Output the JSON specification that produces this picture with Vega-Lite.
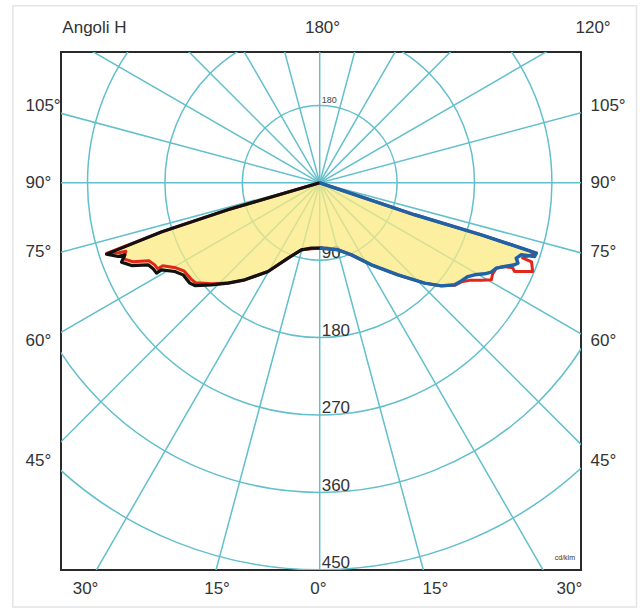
{
  "$schema": "https://vega.github.io/schema/vega-lite/v6.json",
  "width": 520,
  "height": 518,
  "autosize": {"type": "none"},
  "padding": {"left": 61, "top": 52, "right": 59, "bottom": 39},
  "background": "white",
  "config": {
    "view": {"stroke": "#2a2a2a", "strokeWidth": 2},
    "axis": {"labelFont": "Liberation Sans", "labelFontSize": 17, "labelColor": "#333333", "ticks": false, "domain": false, "grid": false, "title": null, "labelOverlap": false, "labelBound": false, "labelFlush": false}
  },
  "datasets": {
    "rings": [
      {"ring": 90, "bottom": -90, "label": "90"},
      {"ring": 180, "bottom": -180, "label": "180"},
      {"ring": 270, "bottom": -270, "label": "270"},
      {"ring": 360, "bottom": -360, "label": "360"},
      {"ring": 450, "bottom": -450, "label": "450"}
    ],
    "spokes": [
      {"x1": 0, "y1": -800, "x2": 0, "y2": 800},
      {"x1": 207.1, "y1": -772.7, "x2": -207.1, "y2": 772.7},
      {"x1": 400, "y1": -692.8, "x2": -400, "y2": 692.8},
      {"x1": 565.7, "y1": -565.7, "x2": -565.7, "y2": 565.7},
      {"x1": 692.8, "y1": -400, "x2": -692.8, "y2": 400},
      {"x1": 772.7, "y1": -207.1, "x2": -772.7, "y2": 207.1},
      {"x1": 800, "y1": 0, "x2": -800, "y2": 0},
      {"x1": 772.7, "y1": 207.1, "x2": -772.7, "y2": -207.1},
      {"x1": 692.8, "y1": 400, "x2": -692.8, "y2": -400},
      {"x1": 565.7, "y1": 565.7, "x2": -565.7, "y2": -565.7},
      {"x1": 400, "y1": 692.8, "x2": -400, "y2": -692.8},
      {"x1": 207.1, "y1": 772.7, "x2": -207.1, "y2": -772.7}
    ],
    "black": [
      {"i": 0, "x": 0, "y": 0}, {"i": 1, "x": -107.0, "y": -31.4}, {"i": 2, "x": -183.7, "y": -57.0},
      {"i": 3, "x": -248.0, "y": -82.9}, {"i": 4, "x": -234.5, "y": -85.7}, {"i": 5, "x": -226.7, "y": -83.7},
      {"i": 6, "x": -230.6, "y": -92.2}, {"i": 7, "x": -219.0, "y": -96.2}, {"i": 8, "x": -199.7, "y": -95.3},
      {"i": 9, "x": -193.8, "y": -100.0}, {"i": 10, "x": -189.9, "y": -105.0}, {"i": 11, "x": -184.1, "y": -101.2},
      {"i": 12, "x": -168.6, "y": -103.1}, {"i": 13, "x": -159.0, "y": -107.0}, {"i": 14, "x": -151.2, "y": -116.6},
      {"i": 15, "x": -145.3, "y": -119.4}, {"i": 16, "x": -125.9, "y": -118.6}, {"i": 17, "x": -106.7, "y": -116.6},
      {"i": 18, "x": -87.2, "y": -112.8}, {"i": 19, "x": -60.1, "y": -103.1}, {"i": 20, "x": -36.9, "y": -87.6},
      {"i": 21, "x": -21.3, "y": -77.9}, {"i": 22, "x": -9.7, "y": -75.9}, {"i": 23, "x": 4, "y": -75.9}
    ],
    "blue": [
      {"i": 0, "x": 0, "y": -75.9}, {"i": 1, "x": 21.3, "y": -77.9}, {"i": 2, "x": 36.9, "y": -83.7},
      {"i": 3, "x": 60.1, "y": -95.3}, {"i": 4, "x": 91.0, "y": -107.0}, {"i": 5, "x": 122.1, "y": -116.6},
      {"i": 6, "x": 141.5, "y": -119.8}, {"i": 7, "x": 157.0, "y": -118.6}, {"i": 8, "x": 164.8, "y": -114.0},
      {"i": 9, "x": 172.4, "y": -109.0}, {"i": 10, "x": 180.2, "y": -107.0}, {"i": 11, "x": 191.9, "y": -105.8},
      {"i": 12, "x": 199.7, "y": -103.8}, {"i": 13, "x": 205.5, "y": -99.2}, {"i": 14, "x": 215.1, "y": -97.3},
      {"i": 15, "x": 226.7, "y": -95.3}, {"i": 16, "x": 230.6, "y": -93.4}, {"i": 17, "x": 228.7, "y": -87.6},
      {"i": 18, "x": 234.5, "y": -83.7}, {"i": 19, "x": 250.0, "y": -85.7}, {"i": 20, "x": 252.0, "y": -81.7},
      {"i": 21, "x": 188.0, "y": -60.5}, {"i": 22, "x": 110.5, "y": -37.2}, {"i": 23, "x": 0, "y": 0}
    ],
    "red": [
      {"i": 0, "x": 0, "y": 0}, {"i": 1, "x": -107.0, "y": -31.4}, {"i": 2, "x": -183.7, "y": -57.0},
      {"i": 3, "x": -248.0, "y": -82.0}, {"i": 4, "x": -233.7, "y": -81.4},
      {"i": 5, "x": -225.6, "y": -79.6}, {"i": 6, "x": -227.9, "y": -88.4}, {"i": 7, "x": -217.4, "y": -91.7},
      {"i": 8, "x": -198.8, "y": -90.7}, {"i": 9, "x": -191.9, "y": -95.4}, {"i": 10, "x": -188.4, "y": -100.0},
      {"i": 11, "x": -182.6, "y": -96.5}, {"i": 12, "x": -167.4, "y": -98.8}, {"i": 13, "x": -158.1, "y": -102.3},
      {"i": 14, "x": -150.0, "y": -111.6}, {"i": 15, "x": -144.2, "y": -116.3}, {"i": 16, "x": -125.6, "y": -117.4},
      {"i": 17, "x": -106.7, "y": -116.6}, {"i": 18, "x": -87.2, "y": -112.8}, {"i": 19, "x": -60.1, "y": -103.1},
      {"i": 20, "x": -36.9, "y": -87.6}, {"i": 21, "x": -21.3, "y": -77.9}, {"i": 22, "x": 0, "y": -75.9},
      {"i": 23, "x": 21.3, "y": -77.9}, {"i": 24, "x": 36.9, "y": -83.7}, {"i": 25, "x": 60.1, "y": -95.3},
      {"i": 26, "x": 91.0, "y": -107.0}, {"i": 27, "x": 122.1, "y": -116.6}, {"i": 28, "x": 141.5, "y": -119.8},
      {"i": 29, "x": 157.0, "y": -119.2}, {"i": 30, "x": 164.8, "y": -115.1}, {"i": 31, "x": 174.4, "y": -113.4},
      {"i": 32, "x": 188.4, "y": -113.4}, {"i": 33, "x": 199.7, "y": -112.8}, {"i": 34, "x": 201.2, "y": -105.8},
      {"i": 35, "x": 205.5, "y": -99.2}, {"i": 36, "x": 215.1, "y": -97.3}, {"i": 37, "x": 224.4, "y": -98.8},
      {"i": 38, "x": 226.7, "y": -103.1}, {"i": 39, "x": 247.7, "y": -103.1}, {"i": 40, "x": 246.5, "y": -91.9},
      {"i": 41, "x": 236.0, "y": -87.2}, {"i": 42, "x": 252.0, "y": -81.7}, {"i": 43, "x": 188.0, "y": -60.5},
      {"i": 44, "x": 110.5, "y": -37.2}, {"i": 45, "x": 0, "y": 0}
    ],
    "fill": [
      {"i": 0, "x": 0, "y": 0}, {"i": 1, "x": -107.0, "y": -31.4}, {"i": 2, "x": -183.7, "y": -57.0},
      {"i": 3, "x": -248.0, "y": -82.9}, {"i": 4, "x": -234.5, "y": -85.7}, {"i": 5, "x": -226.7, "y": -83.7},
      {"i": 6, "x": -230.6, "y": -92.2}, {"i": 7, "x": -219.0, "y": -96.2}, {"i": 8, "x": -199.7, "y": -95.3},
      {"i": 9, "x": -193.8, "y": -100.0}, {"i": 10, "x": -189.9, "y": -105.0}, {"i": 11, "x": -184.1, "y": -101.2},
      {"i": 12, "x": -168.6, "y": -103.1}, {"i": 13, "x": -159.0, "y": -107.0}, {"i": 14, "x": -151.2, "y": -116.6},
      {"i": 15, "x": -145.3, "y": -119.4}, {"i": 16, "x": -125.9, "y": -118.6}, {"i": 17, "x": -106.7, "y": -116.6},
      {"i": 18, "x": -87.2, "y": -112.8}, {"i": 19, "x": -60.1, "y": -103.1}, {"i": 20, "x": -36.9, "y": -87.6},
      {"i": 21, "x": -21.3, "y": -77.9}, {"i": 22, "x": -9.7, "y": -75.9}, {"i": 23, "x": 0, "y": -75.9},
      {"i": 24, "x": 21.3, "y": -77.9}, {"i": 25, "x": 36.9, "y": -83.7}, {"i": 26, "x": 60.1, "y": -95.3},
      {"i": 27, "x": 91.0, "y": -107.0}, {"i": 28, "x": 122.1, "y": -116.6}, {"i": 29, "x": 141.5, "y": -119.8},
      {"i": 30, "x": 157.0, "y": -118.6}, {"i": 31, "x": 164.8, "y": -114.0}, {"i": 32, "x": 172.4, "y": -109.0},
      {"i": 33, "x": 180.2, "y": -107.0}, {"i": 34, "x": 191.9, "y": -105.8}, {"i": 35, "x": 199.7, "y": -103.8},
      {"i": 36, "x": 205.5, "y": -99.2}, {"i": 37, "x": 215.1, "y": -97.3}, {"i": 38, "x": 226.7, "y": -95.3},
      {"i": 39, "x": 230.6, "y": -93.4}, {"i": 40, "x": 228.7, "y": -87.6}, {"i": 41, "x": 234.5, "y": -83.7},
      {"i": 42, "x": 250.0, "y": -85.7}, {"i": 43, "x": 252.0, "y": -81.7}, {"i": 44, "x": 188.0, "y": -60.5},
      {"i": 45, "x": 110.5, "y": -37.2}, {"i": 46, "x": 0, "y": 0}
    ]
  },
  "layer": [
    {
      "data": {"values": [{}]},
      "mark": {"type": "rect", "filled": false, "color": "#e4e4e4", "strokeWidth": 1.5},
      "encoding": {
        "x": {"datum": -357, "type": "quantitative", "scale": {"domain": [-301, 304], "nice": false, "zero": false},
          "axis": {"orient": "bottom", "values": [-273, -120, -2, 134, 290], "labelPadding": 10,
            "labelExpr": "datum.value < -200 ? '30°' : datum.value < -50 ? '15°' : datum.value < 50 ? '0°' : datum.value < 200 ? '15°' : '30°'"}},
        "x2": {"datum": 368.6},
        "y": {"datum": 205.8, "type": "quantitative", "scale": {"domain": [-450, 152], "nice": false, "zero": false},
          "axis": {"orient": "left", "values": [89.5, 0, -80.2, -183.7, -323.3], "labelAlign": "left", "labelBaseline": "middle", "labelPadding": 36,
            "labelExpr": "datum.value > 50 ? '105°' : datum.value > -40 ? '90°' : datum.value > -130 ? '75°' : datum.value > -250 ? '60°' : '45°'"}},
        "y2": {"datum": -493}
      }
    },
    {
      "data": {"name": "rings"},
      "mark": {"type": "point", "shape": "circle", "filled": false, "color": "#62bfcc", "strokeWidth": 1.5, "opacity": 1, "clip": true},
      "encoding": {
        "x": {"datum": 0, "type": "quantitative", "scale": {"domain": [-301, 304], "nice": false, "zero": false},
          "axis": {"orient": "top", "values": [-300, 2.7, 297], "labelPadding": 16,
            "labelAlign": {"condition": {"test": "datum.value < -100 || datum.value > 100", "value": "left"}, "value": "center"},
            "labelExpr": "datum.value < -200 ? 'Angoli H' : datum.value < 200 ? '180°' : '120°'"}},
        "y": {"datum": 0, "type": "quantitative", "scale": {"domain": [-450, 152], "nice": false, "zero": false},
          "axis": {"orient": "right", "values": [89.5, 0, -80.2, -183.7, -323.3], "labelAlign": "left", "labelBaseline": "middle", "labelPadding": 9,
            "labelExpr": "datum.value > 50 ? '105°' : datum.value > -40 ? '90°' : datum.value > -130 ? '75°' : datum.value > -250 ? '60°' : '45°'"}},
        "size": {"field": "ring", "type": "quantitative", "scale": {"type": "pow", "exponent": 2, "domain": [0, 450], "range": [0, 599076]}, "legend": null}
      }
    },
    {
      "data": {"name": "spokes"},
      "mark": {"type": "rule", "color": "#62bfcc", "strokeWidth": 1.5, "clip": true},
      "encoding": {
        "x": {"field": "x1", "type": "quantitative", "scale": {"domain": [-301, 304], "nice": false, "zero": false}, "axis": null},
        "y": {"field": "y1", "type": "quantitative", "scale": {"domain": [-450, 152], "nice": false, "zero": false}, "axis": null},
        "x2": {"field": "x2"},
        "y2": {"field": "y2"}
      }
    },
    {
      "data": {"name": "rings"},
      "mark": {"type": "text", "align": "left", "baseline": "alphabetic", "dx": 2, "dy": -2, "font": "Liberation Sans", "fontSize": 17, "color": "#333333"},
      "encoding": {
        "x": {"datum": 0, "type": "quantitative", "scale": {"domain": [-301, 304], "nice": false, "zero": false}, "axis": null},
        "y": {"field": "bottom", "type": "quantitative", "scale": {"domain": [-450, 152], "nice": false, "zero": false}, "axis": null},
        "text": {"field": "label"}
      }
    },
    {
      "data": {"name": "fill"},
      "mark": {"type": "line", "fill": "#fbea80", "fillOpacity": 0.75, "strokeOpacity": 0, "interpolate": "linear"},
      "encoding": {
        "x": {"field": "x", "type": "quantitative", "scale": {"domain": [-301, 304], "nice": false, "zero": false}, "axis": null},
        "y": {"field": "y", "type": "quantitative", "scale": {"domain": [-450, 152], "nice": false, "zero": false}, "axis": null},
        "order": {"field": "i"}
      }
    },
    {
      "data": {"name": "red"},
      "mark": {"type": "line", "color": "#e3261c", "strokeWidth": 3, "strokeJoin": "round"},
      "encoding": {
        "x": {"field": "x", "type": "quantitative", "scale": {"domain": [-301, 304], "nice": false, "zero": false}, "axis": null},
        "y": {"field": "y", "type": "quantitative", "scale": {"domain": [-450, 152], "nice": false, "zero": false}, "axis": null},
        "order": {"field": "i"}
      }
    },
    {
      "data": {"name": "black"},
      "mark": {"type": "line", "color": "#111111", "strokeWidth": 3.2, "strokeJoin": "round"},
      "encoding": {
        "x": {"field": "x", "type": "quantitative", "scale": {"domain": [-301, 304], "nice": false, "zero": false}, "axis": null},
        "y": {"field": "y", "type": "quantitative", "scale": {"domain": [-450, 152], "nice": false, "zero": false}, "axis": null},
        "order": {"field": "i"}
      }
    },
    {
      "data": {"name": "blue"},
      "mark": {"type": "line", "color": "#1f62a6", "strokeWidth": 3.5, "strokeJoin": "round"},
      "encoding": {
        "x": {"field": "x", "type": "quantitative", "scale": {"domain": [-301, 304], "nice": false, "zero": false}, "axis": null},
        "y": {"field": "y", "type": "quantitative", "scale": {"domain": [-450, 152], "nice": false, "zero": false}, "axis": null},
        "order": {"field": "i"}
      }
    },
    {
      "data": {"values": [{"label": "180"}]},
      "mark": {"type": "text", "align": "left", "baseline": "alphabetic", "dx": 2, "dy": -2, "font": "Liberation Sans", "fontSize": 9, "color": "#444444"},
      "encoding": {
        "x": {"datum": 0, "type": "quantitative", "scale": {"domain": [-301, 304], "nice": false, "zero": false}, "axis": null},
        "y": {"datum": 90, "type": "quantitative", "scale": {"domain": [-450, 152], "nice": false, "zero": false}, "axis": null},
        "text": {"field": "label"}
      }
    },
    {
      "data": {"values": [{"label": "cd/klm"}]},
      "mark": {"type": "text", "align": "right", "baseline": "alphabetic", "font": "Liberation Sans", "fontSize": 7, "color": "#333333"},
      "encoding": {
        "x": {"datum": 297, "type": "quantitative", "scale": {"domain": [-301, 304], "nice": false, "zero": false}, "axis": null},
        "y": {"datum": -438, "type": "quantitative", "scale": {"domain": [-450, 152], "nice": false, "zero": false}, "axis": null},
        "text": {"field": "label"}
      }
    }
  ],
  "resolve": {"axis": {"x": "independent", "y": "independent"}}
}
